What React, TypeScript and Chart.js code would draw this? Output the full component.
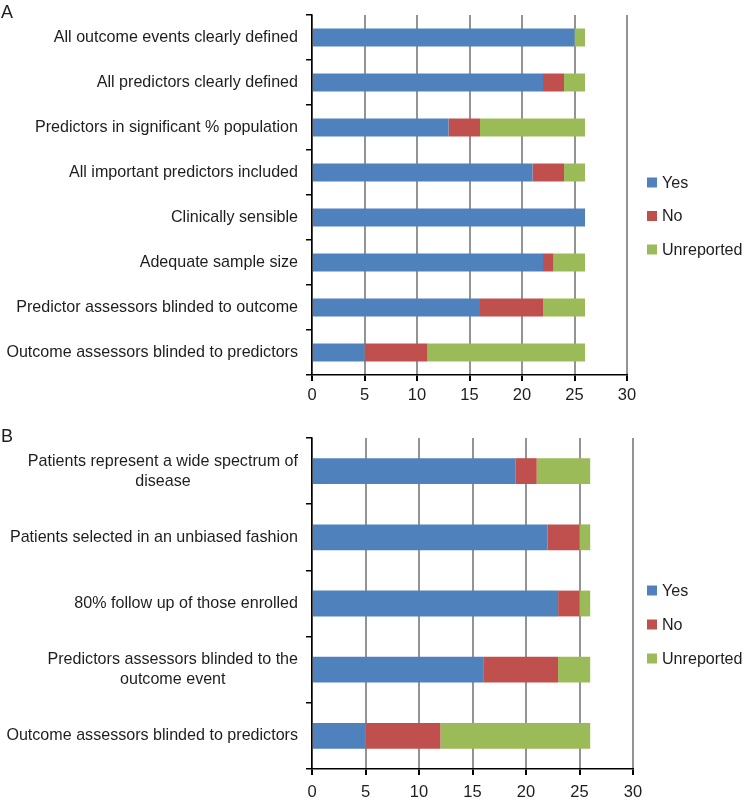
import React, { useEffect, useRef } from "react";
import { Chart, registerables } from "chart.js";

Chart.register(...registerables);

const FONT = "'Liberation Sans', Arial, Helvetica, sans-serif";
const TEXT = "#1e1e1e";
const FS = 16.1;

const seriesNames = ["Yes", "No", "Unreported"];
const seriesColors = ["#4F81BD", "#C0504D", "#9BBB59"];

const categoriesA: string[][] = [
  ["All outcome events clearly defined"],
  ["All predictors clearly defined"],
  ["Predictors in significant % population"],
  ["All important predictors included"],
  ["Clinically sensible"],
  ["Adequate sample size"],
  ["Predictor assessors blinded to outcome"],
  ["Outcome assessors blinded to predictors"],
];
const yesA = [25, 22, 13, 21, 26, 22, 16, 5];
const noA = [0, 2, 3, 3, 0, 1, 6, 6];
const unreportedA = [1, 2, 10, 2, 0, 3, 4, 15];

const categoriesB: string[][] = [
  ["Patients represent a wide spectrum of", "disease"],
  ["Patients selected in an unbiased fashion"],
  ["80% follow up of those enrolled"],
  ["Predictors assessors blinded to the", "outcome event"],
  ["Outcome assessors blinded to predictors"],
];
const yesB = [19, 22, 23, 16, 5];
const noB = [2, 3, 2, 7, 7];
const unreportedB = [5, 1, 1, 3, 14];

const xMin = 0;
const xMax = 30;
const xStep = 5;

type PanelCfg = {
  letter: string;
  categories: string[][];
  series: number[][];
  width: number;
  height: number;
  left: number;
  right: number;
  top: number;
  bottom: number;
  letterBaseline: number;
  tickPad: number;
  barPct: number;
  legendSpacing: number;
};

function makeChart(canvas: HTMLCanvasElement, p: PanelCfg) {
  const overlay = {
    id: "overlay" + p.letter,
    afterDraw(chart: any) {
      const ctx = chart.ctx as CanvasRenderingContext2D;
      const area = chart.chartArea;
      const yScale = chart.scales.y;
      ctx.save();
      // panel letter
      ctx.fillStyle = TEXT;
      ctx.font = `18px ${FONT}`;
      ctx.textAlign = "left";
      ctx.textBaseline = "alphabetic";
      ctx.fillText(p.letter, 1, p.letterBaseline);
      // category labels (multi-line lines centred within a right-aligned block)
      ctx.font = `${FS}px ${FONT}`;
      ctx.textBaseline = "middle";
      ctx.textAlign = "center";
      const lh = 20;
      p.categories.forEach((lines, i) => {
        const yc = yScale.getPixelForValue(i);
        const w = Math.max(...lines.map((l) => ctx.measureText(l).width));
        const cx = area.left - 14 - w / 2;
        lines.forEach((l, j) => {
          const y = yc + (j - (lines.length - 1) / 2) * lh;
          ctx.fillText(l, cx, y);
        });
      });
      // legend
      const mid = (area.top + area.bottom) / 2 + 21;
      ctx.textAlign = "left";
      seriesNames.forEach((name, i) => {
        const y = mid + (i - 1) * p.legendSpacing;
        ctx.fillStyle = seriesColors[i];
        ctx.fillRect(647, y - 5, 10, 10);
        ctx.fillStyle = TEXT;
        ctx.fillText(name, 662, y + 1);
      });
      ctx.restore();
    },
  };

  return new Chart(canvas, {
    type: "bar",
    data: {
      labels: p.categories.map((c) => c.join(" ")),
      datasets: seriesNames.map((name, i) => ({
        label: name,
        data: p.series[i],
        backgroundColor: seriesColors[i],
        borderWidth: 0,
        barPercentage: p.barPct,
        categoryPercentage: 1,
      })),
    },
    options: {
      indexAxis: "y",
      responsive: false,
      animation: false,
      layout: {
        padding: { left: 0, right: p.width - p.right, top: p.top, bottom: 0 },
      },
      plugins: {
        legend: { display: false },
        tooltip: { enabled: false },
      },
      scales: {
        x: {
          stacked: true,
          min: xMin,
          max: xMax,
          ticks: {
            stepSize: xStep,
            color: TEXT,
            font: { family: FONT, size: 16.5 },
            padding: p.tickPad,
          },
          grid: {
            color: "#939393",
            lineWidth: 2,
            tickColor: "#000",
            tickLength: 6,
          },
          border: { display: true, color: "#000", width: 1.5 },
          afterFit(scale: any) {
            scale.height = p.height - p.bottom;
          },
        },
        y: {
          stacked: true,
          ticks: { display: false },
          grid: {
            display: true,
            drawOnChartArea: false,
            drawTicks: true,
            tickLength: 6,
            color: "#000",
            lineWidth: 1.5,
            offset: true,
          },
          border: { display: true, color: "#000", width: 1.5 },
          afterFit(scale: any) {
            scale.width = p.left;
          },
        },
      },
    },
    plugins: [overlay],
  } as any);
}

const panelA: PanelCfg = {
  letter: "A",
  categories: categoriesA,
  series: [yesA, noA, unreportedA],
  width: 746,
  height: 410,
  left: 312,
  right: 627,
  top: 15,
  bottom: 375,
  letterBaseline: 18,
  tickPad: 5,
  barPct: 0.4,
  legendSpacing: 33.5,
};

const panelB: PanelCfg = {
  letter: "B",
  categories: categoriesB,
  series: [yesB, noB, unreportedB],
  width: 746,
  height: 390,
  left: 312,
  right: 633,
  top: 28,
  bottom: 359,
  letterBaseline: 32,
  tickPad: 8,
  barPct: 0.39,
  legendSpacing: 34,
};

function Panel({ cfg, top }: { cfg: PanelCfg; top: number }) {
  const ref = useRef<HTMLCanvasElement>(null);
  useEffect(() => {
    if (!ref.current) return;
    const chart = makeChart(ref.current, cfg);
    return () => chart.destroy();
  }, [cfg]);
  return (
    <canvas
      ref={ref}
      width={cfg.width}
      height={cfg.height}
      style={{ position: "absolute", left: 0, top, width: cfg.width, height: cfg.height }}
    />
  );
}

export default function App() {
  return (
    <div
      style={{
        position: "absolute",
        left: 0,
        top: 0,
        width: 746,
        height: 800,
        background: "#fff",
      }}
    >
      <Panel cfg={panelA} top={0} />
      <Panel cfg={panelB} top={410} />
    </div>
  );
}
